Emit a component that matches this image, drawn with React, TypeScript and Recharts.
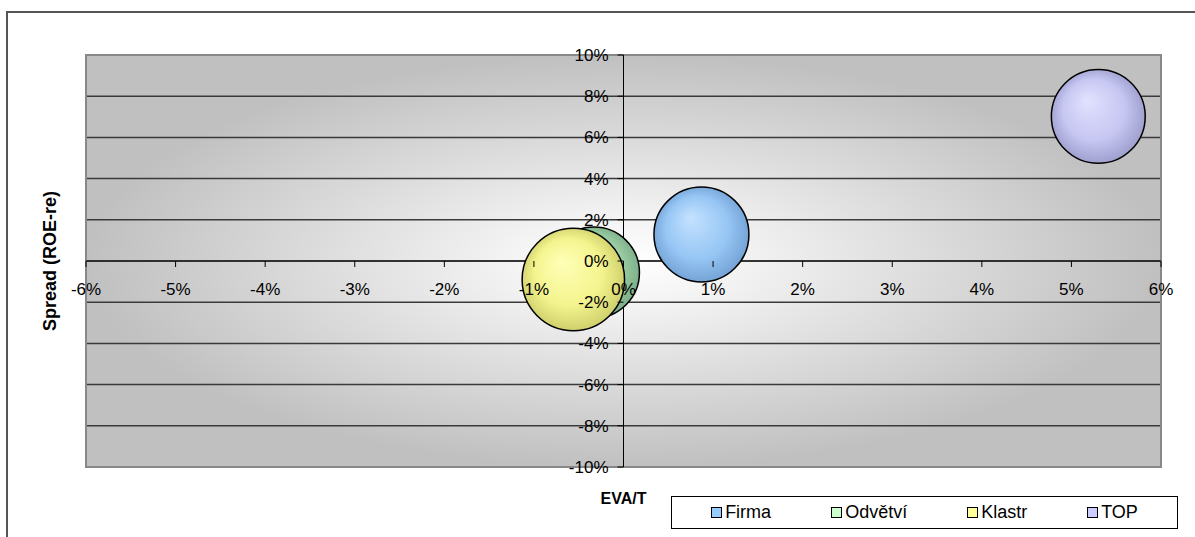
import React from "react";
import {
  ScatterChart,
  Scatter,
  XAxis,
  YAxis,
  ZAxis,
  CartesianGrid,
  ReferenceLine,
  ReferenceArea,
  Legend,
  Label,
} from "recharts";

const W = 1195;
const H = 537;
const MARGIN = { top: 55, right: 34, bottom: 69, left: 85 };
const AXIS_W = 1;
const AXIS_H = 1;
const PLOT_W = W - MARGIN.left - MARGIN.right - AXIS_W;
const PLOT_H = H - MARGIN.top - MARGIN.bottom - AXIS_H;
const FONT = "'Liberation Sans', Arial, sans-serif";

// data
const seriesNames = ["Firma", "Odvětví", "Klastr", "TOP"];
const evaT = [0.87, -0.33, -0.56, 5.3]; // EVA/T in %
const spread = [1.29, -0.56, -0.9, 7.02]; // ROE - re in %
const bubbleSize = [86, 79, 100, 84];
const xTicks = [-6, -5, -4, -3, -2, -1, 0, 1, 2, 3, 4, 5, 6];
const yTicks = [-10, -8, -6, -4, -2, 0, 2, 4, 6, 8, 10];

// colours
const legendColors = ["#99ccff", "#ccffcc", "#ffff99", "#ccccff"];
const bubbleLight = ["#c4e2ff", "#c4ecc8", "#ffffb8", "#e2e2ff"];
const bubbleMid = ["#96c6f4", "#9fd2a8", "#f4f48e", "#c6c6f2"];
const bubbleDark = ["#6e9cd0", "#76a882", "#c8c866", "#9898c8"];

const XTick = ({ x, y, payload }: any) => {
  const y0 = y - PLOT_H / 2; // axis crosses at 0
  return (
    <g>
      <line x1={x} x2={x} y1={y0} y2={y0 + 6} stroke="#000" />
      <text x={x} y={y0 + 34} textAnchor="middle" fontSize={17} fontFamily={FONT} fill="#000">
        {payload.value}%
      </text>
    </g>
  );
};

const YTick = ({ x, y, payload }: any) => {
  const x0 = x + PLOT_W / 2;
  return (
    <g>
      <line x1={x0 - 6} x2={x0} y1={y} y2={y} stroke="#000" />
      <text x={x0 - 15} y={y + 6} textAnchor="end" fontSize={17} fontFamily={FONT} fill="#000">
        {payload.value}%
      </text>
    </g>
  );
};

const Bubble = (props: any) => {
  const { cx, cy, size, width, fill } = props;
  const r = size != null ? Math.sqrt(size / Math.PI) : width / 2;
  return <circle cx={cx} cy={cy} r={r} fill={fill} stroke="#000" strokeWidth={1.5} />;
};

const LegendBox = () => (
  <div
    style={{
      width: 507,
      height: 33,
      boxSizing: "border-box",
      border: "1.5px solid #000",
      background: "#fff",
      display: "flex",
      alignItems: "center",
      justifyContent: "center",
      gap: 60,
      fontFamily: FONT,
      fontSize: 18,
      color: "#000",
    }}
  >
    {seriesNames.map((n, i) => (
      <span key={n} style={{ display: "flex", alignItems: "center" }}>
        <span
          style={{
            width: 9,
            height: 9,
            border: "1px solid #000",
            background: legendColors[i],
            marginRight: 3,
          }}
        />
        {n}
      </span>
    ))}
  </div>
);

export default function App() {
  return (
    <div
      style={{
        position: "absolute",
        left: 0,
        top: 0,
        width: W,
        height: H,
        overflow: "hidden",
        background: "#fff",
      }}
    >
      <div
        style={{
          position: "absolute",
          left: 6,
          top: 11,
          width: 1300,
          height: 700,
          border: "2px solid #555",
        }}
      />
      <ScatterChart width={W} height={H} margin={MARGIN} style={{ position: "absolute", left: 0, top: 0 }}>
        <defs>
          <radialGradient id="plotBg" cx="50%" cy="50%" r="50%">
            <stop offset="0%" stopColor="#ffffff" />
            <stop offset="20%" stopColor="#f4f4f4" />
            <stop offset="100%" stopColor="#c0c0c0" />
          </radialGradient>
          {seriesNames.map((n, i) => (
            <radialGradient key={n} id={`bub${i}`} cx="50%" cy="50%" r="55%" fx="38%" fy="32%">
              <stop offset="0%" stopColor={bubbleLight[i]} />
              <stop offset="60%" stopColor={bubbleMid[i]} />
              <stop offset="100%" stopColor={bubbleDark[i]} />
            </radialGradient>
          ))}
        </defs>
        <CartesianGrid
          vertical={false}
          fill="url(#plotBg)"
          fillOpacity={1}
          stroke="#3a3a3a"
          strokeWidth={1.5}
        />
        <ReferenceArea x1={-6} x2={6} y1={-10} y2={10} fill="none" stroke="#888" strokeWidth={2} />
        <ReferenceLine x={0} stroke="#000" />
        <ReferenceLine y={0} stroke="#000" />
        <ZAxis type="number" dataKey="z" domain={[0, 100]} range={[0, Math.PI * 51.2 * 51.2]} />
        {seriesNames.map((n, i) => (
          <Scatter
            key={n}
            name={n}
            data={[{ x: evaT[i], y: spread[i], z: bubbleSize[i] }]}
            fill={legendColors[i]}
            isAnimationActive={false}
            shape={(p: any) => <Bubble {...p} fill={`url(#bub${i})`} />}
          />
        ))}
        <XAxis
          type="number"
          dataKey="x"
          domain={[-6, 6]}
          ticks={xTicks}
          interval={0}
          height={AXIS_H}
          axisLine={false}
          tickLine={false}
          tickSize={0}
          tickMargin={0}
          tick={(p: any) => <XTick {...p} />}
        >
          <Label
            content={({ viewBox }: any) => (
              <text
                x={viewBox.x + viewBox.width / 2}
                y={viewBox.y + 37}
                textAnchor="middle"
                fontSize={16}
                fontWeight="bold"
                fontFamily={FONT}
                fill="#000"
              >
                EVA/T
              </text>
            )}
          />
        </XAxis>
        <YAxis
          type="number"
          dataKey="y"
          domain={[-10, 10]}
          ticks={yTicks}
          interval={0}
          width={AXIS_W}
          axisLine={false}
          tickLine={false}
          tickSize={0}
          tickMargin={0}
          tick={(p: any) => <YTick {...p} />}
        >
          <Label
            content={({ viewBox }: any) => {
              const lx = viewBox.x - 29;
              const ly = viewBox.y + viewBox.height / 2;
              return (
                <text
                  x={lx}
                  y={ly}
                  transform={`rotate(-90 ${lx} ${ly})`}
                  textAnchor="middle"
                  fontSize={18}
                  fontWeight="bold"
                  fontFamily={FONT}
                  fill="#000"
                >
                  Spread (ROE-re)
                </text>
              );
            }}
          />
        </YAxis>
        <Legend
          layout="horizontal"
          verticalAlign="middle"
          align="center"
          wrapperStyle={{ left: 671, top: 496, width: 507, bottom: "auto" }}
          content={<LegendBox />}
        />
      </ScatterChart>
    </div>
  );
}
